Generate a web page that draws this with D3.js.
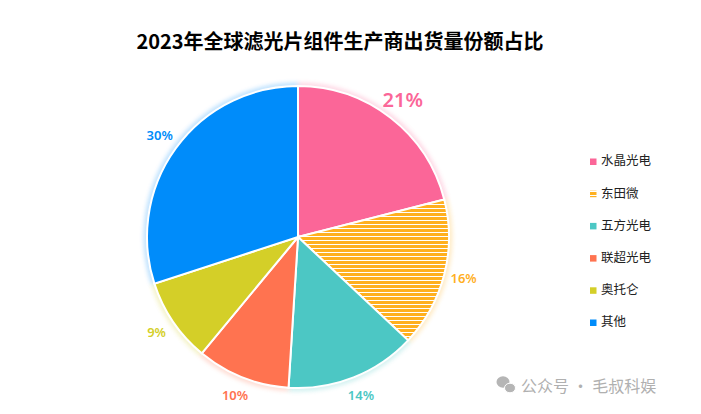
<!DOCTYPE html>
<html>
<head>
<meta charset="utf-8">
<script src="https://cdn.jsdelivr.net/npm/d3@7"></script>
<style>
  html, body { margin: 0; padding: 0; background: #fff; }
  svg { display: block; font-family: "Noto Sans CJK SC", "Noto Sans", sans-serif; }
</style>
</head>
<body>
<svg width="701" height="414"></svg>
<script>
var names = ['水晶光电', '东田微', '五方光电', '联超光电', '奥托仑', '其他'];
var shares = [21, 16, 14, 10, 9, 30];
var colors = ['#fb6698', '#ffb01f', '#4cc7c4', '#ff7350', '#d4cf28', '#008cfa'];
var labelSizes = [20, 13, 13, 13, 13, 13];

var svg = d3.select('svg');
var cx = 298, cy = 237, radius = 151;

// striped fill for the second slice
var defs = svg.append('defs');
var stripes = defs.append('pattern').attrs
  ? null : defs.append('pattern')
    .attr('id', 'stripes').attr('patternUnits', 'userSpaceOnUse')
    .attr('width', 6).attr('height', 4);
stripes.append('rect').attr('width', 6).attr('height', 4).attr('fill', '#fff');
stripes.append('rect').attr('width', 6).attr('height', 3).attr('fill', colors[1]);

var glow = defs.append('filter').attr('id', 'glow')
  .attr('x', '-20%').attr('y', '-20%').attr('width', '140%').attr('height', '140%');
glow.append('feGaussianBlur').attr('stdDeviation', 2.5);

function fillOf(i) { return i == 1 ? 'url(#stripes)' : colors[i]; }

// Title
svg.append('text').attr('x', 340).attr('y', 49).attr('text-anchor', 'middle')
  .style('font-size', '20px').style('font-weight', 700).attr('fill', '#000')
  .text('2023年全球滤光片组件生产商出货量份额占比');

// Pie
var pie = d3.pie().sort(null)(shares);
var arc = d3.arc().innerRadius(0).outerRadius(radius);
var glowArc = d3.arc().innerRadius(radius - 1).outerRadius(radius + 2.5);
var pie_g = svg.append('g').attr('transform', 'translate(' + cx + ',' + cy + ')');

pie_g.selectAll('.glow').data(pie).enter().append('path')
  .attr('class', 'glow').attr('d', glowArc)
  .attr('fill', function (d, i) { return colors[i]; })
  .attr('opacity', 0.4).attr('filter', 'url(#glow)');

pie_g.selectAll('.slice').data(pie).enter().append('path')
  .attr('class', 'slice').attr('d', arc)
  .attr('fill', function (d, i) { return fillOf(i); })
  .attr('stroke', '#fff').attr('stroke-width', 2);

// Percent labels, outside the rim
var labelArc = d3.arc().innerRadius(radius + 20).outerRadius(radius + 20);
pie_g.selectAll('.pct').data(pie).enter().append('text')
  .attr('class', 'pct')
  .attr('transform', function (d, i) {
    var p = labelArc.centroid(d);
    return 'translate(' + p[0] + ',' + p[1] + ')';
  })
  .attr('text-anchor', 'middle').attr('dominant-baseline', 'middle')
  .attr('fill', function (d, i) { return colors[i]; })
  .style('font-family', '"Noto Sans", sans-serif')
  .style('font-weight', 600)
  .style('font-size', function (d, i) { return labelSizes[i] + 'px'; })
  .text(function (d, i) { return shares[i] + '%'; });

// Legend
var legendY = d3.scalePoint().domain(names).range([162, 323]);
var legend_g = svg.append('g');
names.forEach(function (n, i) {
  legend_g.append('rect').attr('x', 590).attr('y', legendY(n) - 3.5)
    .attr('width', 6.5).attr('height', 6.5).attr('fill', fillOf(i));
  legend_g.append('text').attr('x', 601).attr('y', legendY(n))
    .attr('dominant-baseline', 'middle').attr('fill', '#222')
    .style('font-size', '12.5px').text(n);
});

// Watermark
var wm_g = svg.append('g').attr('fill', '#b5b5b5');
wm_g.append('ellipse').attr('cx', 503).attr('cy', 382).attr('rx', 6.5).attr('ry', 5.8);
wm_g.append('ellipse').attr('cx', 510).attr('cy', 388).attr('rx', 5.5).attr('ry', 4.8)
  .attr('stroke', '#fff').attr('stroke-width', 1);
svg.append('text').attr('x', 521).attr('y', 392)
  .attr('fill', '#b0b0b0').style('font-size', '16px').text('公众号 · 毛叔科娱');
</script>
</body>
</html>
